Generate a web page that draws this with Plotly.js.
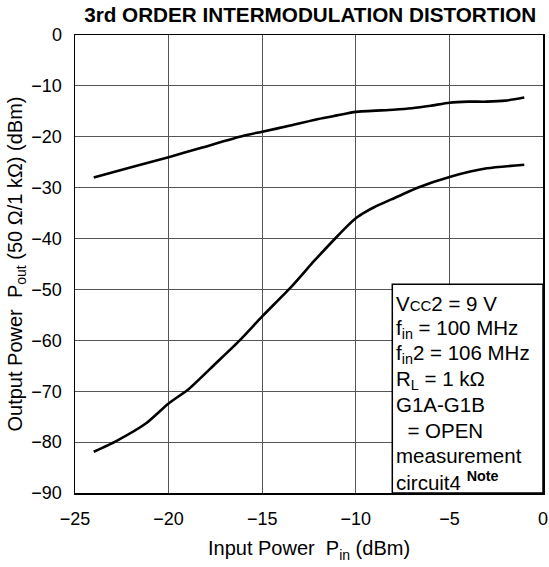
<!DOCTYPE html>
<html><head><meta charset="utf-8">
<script src="https://cdn.plot.ly/plotly-3.0.1.min.js"></script>
<style>body{margin:0;background:#fff}#chart{width:549px;height:567px}</style>
</head><body><div id="chart"></div>
<script>
// Upper curve (fundamental output)
var upperX = [-24, -22, -20, -18.2, -16, -15, -13.5, -12, -11, -10, -8, -7, -6, -5, -4, -3, -2, -1];
var upperY = [-28, -26, -24, -22.1, -19.8, -19, -17.8, -16.5, -15.8, -15.1, -14.7, -14.4, -13.9, -13.3, -13.1, -13.1, -12.9, -12.3];
// Lower curve (3rd order IM)
var lowerX = [-24, -22.8, -21.2, -20, -18.9, -17.5, -16.2, -15, -13.5, -12.2, -11, -10.5, -10, -9.5, -9.0, -8.1, -6.7, -4.9, -3, -1];
var lowerY = [-81.9, -79.8, -76.3, -72.4, -69.5, -64.6, -60, -55.3, -49.7, -44.3, -39.6, -37.7, -36.0, -34.8, -33.8, -32.3, -30, -27.8, -26.2, -25.5];
var xTicks = [-25, -20, -15, -10, -5, 0];
var yTicks = [0, -10, -20, -30, -40, -50, -60, -70, -80, -90];
var noteLines = [
  "V<span style=\"font-size:15px\">CC</span>2 = 9 V",
  "f<sub>in</sub> = 100 MHz",
  "f<sub>in</sub>2 = 106 MHz",
  "R<sub>L</sub> = 1 kΩ",
  "G1A-G1B",
  "  = OPEN",
  "measurement",
  "circuit4 <sup><b>Note</b></sup>"
];
var noteY = [-52.7, -57.7, -62.7, -67.7, -72.7, -77.7, -82.7, -87.7];
var FONT = "Liberation Sans, Arial, Helvetica, sans-serif";
var line = {color: "#000", width: 2.6, shape: "spline", smoothing: 0.6};
var data = [
  {x: upperX, y: upperY, mode: "lines", line: line, hoverinfo: "skip"},
  {x: lowerX, y: lowerY, mode: "lines", line: line, hoverinfo: "skip"}
];
var axisCommon = {showline: true, mirror: true, linecolor: "#000", linewidth: 1.5,
  showgrid: true, gridcolor: "#555", gridwidth: 1, zeroline: false,
  ticks: "outside", tickcolor: "rgba(0,0,0,0)",
  tickfont: {family: FONT, size: 18, color: "#000"}, fixedrange: true};
var annotations = noteLines.map(function (t, i) {
  return {xref: "x", yref: "y", x: -7.98, y: noteY[i], xanchor: "left", yanchor: "middle", align: "left",
    showarrow: false, text: t, font: {family: FONT, size: 20.5, color: "#000"}};
});
var layout = {
  width: 549, height: 567,
  margin: {l: 75, r: 6, t: 35, b: 74},
  paper_bgcolor: "#fff", plot_bgcolor: "#fff",
  showlegend: false,
  title: {text: "<b>3rd ORDER INTERMODULATION DISTORTION</b>", font: {family: FONT, size: 20.7, color: "#000"},
    x: 0.565, xanchor: "center", y: 0.9735, yanchor: "middle"},
  xaxis: Object.assign({}, axisCommon, {range: [-25, 0], tickvals: xTicks, ticklen: 9,
    title: {text: "Input Power  P<sub>in</sub> (dBm)", font: {family: FONT, size: 20, color: "#000"}, standoff: 13}}),
  yaxis: Object.assign({}, axisCommon, {range: [-90, 0], tickvals: yTicks, ticklen: 8,
    title: {text: "Output Power  P<sub>out</sub> (50 Ω/1 kΩ) (dBm)", font: {family: FONT, size: 20, color: "#000"}, standoff: 3}}),
  shapes: [{type: "rect", xref: "x", yref: "y", x0: -8.05, x1: 0, y0: -90, y1: -49,
    line: {color: "#000", width: 1.5}, fillcolor: "#fff", layer: "above"}],
  annotations: annotations
};
Plotly.newPlot("chart", data, layout, {displayModeBar: false, staticPlot: true});
</script></body></html>
